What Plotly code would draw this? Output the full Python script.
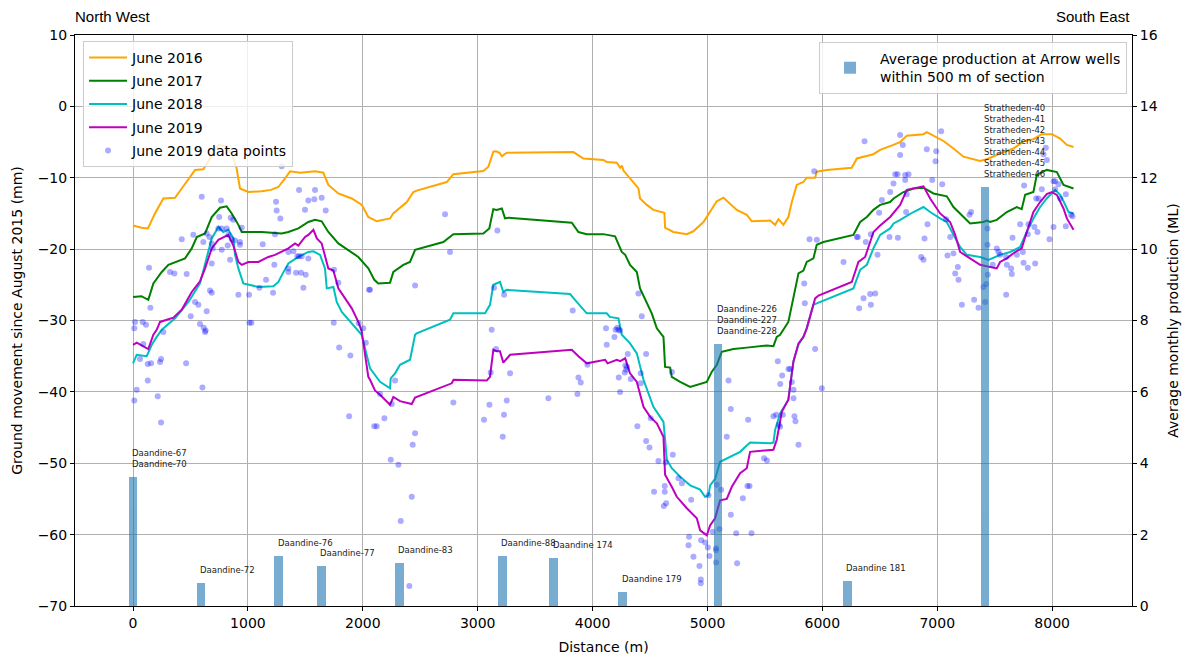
import plotly.graph_objects as go

# ---------------- data ----------------
x_2016 = [0, 75, 130, 191, 264, 366, 424, 511, 540, 612, 656, 700, 750, 800, 860, 902, 931, 1004, 1120, 1200, 1265, 1323, 1367, 1455, 1584, 1657, 1700, 1787, 1904, 1991, 2048, 2121, 2237, 2265, 2383, 2440, 2469, 2731, 2788, 3049, 3093, 3136, 3160, 3190, 3210, 3252, 3514, 3833, 3920, 3978, 4094, 4123, 4211, 4240, 4255, 4269, 4355, 4399, 4413, 4472, 4529, 4602, 4625, 4631, 4703, 4820, 4877, 4965, 5023, 5081, 5139, 5197, 5255, 5342, 5386, 5545, 5589, 5618, 5661, 5704, 5734, 5777, 5835, 5864, 5937, 5951, 6039, 6256, 6300, 6444, 6503, 6618, 6677, 6735, 6880, 6909, 6967, 7054, 7141, 7228, 7373, 7431, 7547, 7663, 7750, 7837, 7910, 7997, 8070, 8128, 8186]
y_2016 = [-16.7, -17.0, -17.1, -15.0, -12.9, -12.8, -11.5, -9.6, -8.9, -8.8, -7.7, -6.2, -5.4, -5.6, -6.6, -8.7, -11.5, -12.0, -11.9, -11.7, -11.3, -10.1, -9.1, -9.3, -9.1, -9.3, -11.0, -12.2, -12.9, -13.8, -15.5, -16.1, -15.7, -15.0, -13.4, -12.0, -11.8, -10.6, -9.5, -9.05, -8.45, -6.35, -6.3, -6.5, -7.0, -6.5, -6.45, -6.4, -7.3, -7.4, -7.5, -7.8, -7.9, -8.6, -8.3, -9.0, -10.6, -11.5, -12.9, -13.8, -14.5, -14.8, -14.9, -17.0, -17.6, -17.9, -17.5, -16.2, -14.8, -13.3, -12.8, -13.6, -14.5, -15.2, -16.1, -16.0, -16.6, -15.8, -16.6, -15.5, -13.4, -11.0, -10.6, -10.0, -10.0, -9.15, -8.9, -8.6, -7.3, -6.7, -6.1, -5.4, -5.0, -4.1, -3.9, -3.6, -4.1, -4.85, -5.9, -7.05, -7.65, -7.4, -6.6, -5.9, -4.9, -4.6, -3.9, -3.9, -4.5, -5.4, -5.7]

x_2017 = [0, 73, 133, 177, 250, 308, 453, 511, 555, 627, 685, 757, 815, 859, 917, 946, 1120, 1294, 1352, 1439, 1526, 1584, 1642, 1700, 1787, 1961, 2048, 2100, 2135, 2190, 2237, 2266, 2353, 2411, 2455, 2701, 2788, 3049, 3101, 3136, 3165, 3210, 3238, 3267, 3819, 3877, 3949, 4094, 4196, 4254, 4284, 4326, 4385, 4413, 4472, 4515, 4559, 4617, 4631, 4675, 4689, 4762, 4849, 4965, 4994, 5037, 5081, 5124, 5226, 5342, 5516, 5574, 5603, 5632, 5704, 5792, 5835, 5864, 5922, 5951, 6009, 6270, 6329, 6387, 6444, 6503, 6590, 6620, 6706, 6793, 6880, 6967, 7083, 7141, 7257, 7286, 7402, 7431, 7460, 7518, 7605, 7692, 7735, 7765, 7837, 7866, 7953, 8041, 8099, 8186]
y_2017 = [-26.7, -26.6, -27.1, -24.8, -23.2, -22.2, -21.3, -19.9, -18.3, -17.8, -15.5, -14.2, -14.0, -15.0, -16.6, -17.6, -17.6, -17.8, -17.6, -17.1, -16.2, -15.9, -16.1, -17.6, -19.2, -21.1, -22.7, -24.3, -24.8, -24.7, -24.7, -23.2, -22.2, -21.8, -20.1, -19.0, -17.9, -17.8, -17.1, -14.4, -14.5, -14.3, -15.7, -15.6, -16.3, -17.6, -17.9, -17.9, -18.2, -20.4, -20.8, -22.2, -23.2, -25.5, -27.4, -29.0, -31.1, -32.3, -36.5, -36.6, -37.9, -38.6, -39.3, -38.8, -38.6, -37.2, -36.2, -34.4, -34.0, -33.8, -33.5, -33.6, -32.3, -32.0, -30.2, -23.4, -23.0, -21.8, -21.3, -19.4, -19.0, -18.0, -16.2, -15.5, -14.5, -13.8, -13.4, -12.9, -12.0, -11.5, -11.4, -12.2, -12.6, -14.1, -15.9, -16.4, -16.2, -16.0, -16.2, -15.9, -14.8, -14.1, -14.4, -12.4, -12.0, -9.6, -8.9, -9.2, -11.0, -11.5]

x_2018 = [0, 32, 119, 163, 206, 250, 366, 482, 583, 627, 685, 743, 786, 830, 873, 888, 917, 960, 1091, 1221, 1265, 1300, 1352, 1439, 1526, 1570, 1628, 1671, 1686, 1744, 1773, 1817, 1874, 1961, 1990, 2063, 2150, 2237, 2243, 2281, 2324, 2411, 2455, 2469, 2759, 2788, 3064, 3107, 3136, 3194, 3223, 3252, 3804, 3862, 3949, 4123, 4150, 4225, 4254, 4326, 4385, 4443, 4529, 4588, 4617, 4631, 4646, 4689, 4762, 4849, 4936, 4979, 5009, 5023, 5066, 5110, 5197, 5284, 5342, 5371, 5545, 5574, 5589, 5632, 5704, 5734, 5748, 5792, 5835, 5864, 5922, 5951, 6270, 6329, 6387, 6444, 6503, 6590, 6620, 6677, 6793, 6880, 6938, 7025, 7083, 7141, 7199, 7257, 7373, 7446, 7547, 7634, 7721, 7779, 7837, 7895, 7953, 8026, 8070, 8099, 8142, 8186]
y_2018 = [-36.0, -34.8, -35.0, -33.4, -32.3, -31.3, -29.7, -27.4, -24.8, -22.2, -18.5, -16.9, -17.6, -17.3, -18.5, -20.8, -22.7, -24.8, -25.3, -25.2, -24.6, -23.5, -22.0, -21.1, -20.4, -20.3, -20.8, -22.7, -25.5, -25.3, -27.4, -28.8, -29.9, -31.6, -32.0, -36.7, -38.6, -39.5, -38.1, -37.4, -36.2, -35.5, -32.0, -31.8, -29.9, -29.0, -29.0, -27.8, -25.0, -24.6, -26.0, -25.7, -26.3, -27.4, -29.0, -29.0, -29.5, -29.7, -32.0, -33.2, -34.6, -38.3, -42.1, -43.5, -44.2, -46.7, -49.5, -50.7, -51.9, -53.1, -53.7, -54.7, -54.5, -53.1, -52.2, -49.8, -49.1, -48.4, -47.5, -47.1, -47.2, -47.1, -45.3, -43.0, -41.1, -37.4, -35.7, -33.4, -32.3, -31.1, -27.8, -27.6, -25.5, -22.9, -22.2, -19.9, -18.0, -17.1, -16.4, -15.9, -14.8, -14.1, -14.8, -15.7, -16.2, -18.0, -19.7, -20.8, -21.1, -21.5, -20.8, -20.4, -19.7, -17.6, -15.7, -14.1, -12.9, -11.7, -12.4, -13.3, -14.8, -15.0]

x_2019 = [0, 32, 133, 177, 206, 235, 351, 424, 511, 583, 627, 685, 743, 830, 873, 917, 946, 1004, 1091, 1178, 1236, 1294, 1352, 1410, 1439, 1497, 1526, 1570, 1600, 1642, 1700, 1744, 1787, 1904, 1961, 1990, 2048, 2063, 2106, 2150, 2237, 2266, 2324, 2426, 2455, 2774, 2790, 3079, 3107, 3136, 3165, 3194, 3223, 3282, 3819, 3877, 3949, 4109, 4130, 4211, 4240, 4284, 4326, 4385, 4443, 4501, 4559, 4617, 4631, 4689, 4733, 4820, 4907, 4936, 4994, 5023, 5066, 5110, 5168, 5212, 5284, 5342, 5371, 5574, 5603, 5647, 5704, 5734, 5749, 5792, 5835, 5864, 5937, 5966, 6256, 6314, 6372, 6416, 6445, 6503, 6590, 6677, 6735, 6880, 6938, 7025, 7112, 7156, 7199, 7286, 7373, 7431, 7518, 7547, 7605, 7678, 7735, 7779, 7837, 7895, 7953, 7997, 8041, 8099, 8128, 8186]
y_2019 = [-33.4, -33.1, -34.0, -32.0, -31.3, -30.2, -29.6, -28.5, -26.0, -24.5, -22.7, -19.9, -18.7, -18.0, -19.5, -21.8, -22.2, -21.8, -21.8, -21.1, -20.8, -20.4, -19.9, -19.2, -19.5, -18.3, -18.0, -17.3, -18.5, -19.2, -22.7, -23.0, -25.5, -28.3, -30.2, -31.5, -37.9, -38.3, -39.8, -40.4, -41.8, -40.7, -41.3, -41.7, -40.8, -38.8, -38.3, -38.4, -37.9, -34.1, -34.3, -34.3, -35.9, -34.8, -34.1, -35.0, -36.0, -35.5, -36.0, -35.5, -35.7, -35.3, -37.4, -38.6, -42.1, -43.5, -44.4, -46.3, -51.6, -53.3, -54.7, -56.3, -57.7, -59.4, -60.1, -58.7, -57.7, -55.2, -55.0, -53.3, -51.4, -50.7, -48.4, -48.1, -46.7, -42.8, -41.1, -37.4, -35.7, -33.2, -32.3, -31.1, -26.9, -26.5, -24.6, -21.8, -21.1, -19.0, -17.6, -16.7, -15.5, -13.8, -11.7, -11.2, -12.9, -15.0, -16.2, -18.0, -20.4, -21.3, -22.2, -22.4, -22.7, -21.8, -21.3, -20.4, -19.9, -17.6, -14.8, -13.4, -12.3, -12.0, -12.4, -14.3, -15.7, -17.3]

pts_x = [1294, 598, 766, 1245, 1445, 1584, 1578, 1642, 1526, 1250, 1677, 1497, 1282, 750, 850, 772, 873,
         424, 525, 612, 641, 665, 685, 743, 815, 830, 859, 888, 931, 931, 946, 772, 824, 693, 685, 845,
         1129, 1236, 1352, 1396, 1430, 1445, 1468, 1526, 1352, 1352, 1419, 1462, 1230, 1503, 1483, 1158,
         1100, 1219, 1010, 917, 670, 685, 1749, 1787, 1747, 1964, 2004, 2054, 139, 322, 360, 467, 151,
         84, 17, 11, 113, 502, 569, 641, 540, 583, 615, 632, 1013, 1030,
         89, 61, 128, 157, 235, 244, 462, 128, 32, 11, 215, 244, 604, 1794, 1892, 2026, 1881, 2100, 627, 264,
         2281, 2150, 2252, 2188, 2121, 2455, 2434, 2243, 2310, 2426, 2330, 2405, 2788, 3102, 3055, 3253,
         3229, 3218, 3113, 3282, 3160, 3122, 3615, 3877, 3897, 3868, 3955, 4123, 4190, 4225, 4306, 4466,
         4228, 4332, 4239, 4285, 4292, 4280, 4300, 4419, 4419, 4506, 4390, 4466, 4495, 4573, 4637, 4535,
         4628, 4628, 4640, 4620,
         4690, 4698, 4748, 4777, 4858, 4840, 4835, 4878, 4930, 4942, 4942, 4945, 4980, 5003, 5017, 5009,
         5046, 5075, 5075, 5075, 5081, 5119, 5104, 5168, 5183, 5203, 5203, 5250, 5258, 5308, 5348, 5366,
         5383, 5354, 5493, 5517, 5574, 5598, 5622, 5632, 5656, 5612, 5650, 5633, 5705, 5720, 5734, 5749,
         5749, 5757, 5766, 5792, 5937, 5995,
         5929, 6367, 6677, 6700, 6677, 7034, 6909, 6991, 6985, 6634, 6654, 6721, 6750, 6721, 6619, 6590,
         6518, 6494, 6735, 6729, 6956, 7043, 6915, 6889, 6860, 6880, 5888, 5952, 6300, 6309, 6422, 6378,
         6657, 6584, 6480, 6184, 5842, 5847, 6358, 6416, 6460, 6320, 6422, 7089, 7141, 7113, 7179, 7156,
         7185, 7077,
         7214, 7321, 7359, 7417, 7402, 7426, 7440, 7437, 7437, 7295, 7280, 7518, 7533, 7547, 7483, 7600,
         7606, 7643, 7649, 7600, 7693, 7655, 7722, 7794, 7788, 7745, 7751, 7788, 7852, 7872, 7846, 7861,
         7881, 7756, 7925, 7945, 7954, 7910, 7977, 8012, 8026, 8012, 8026, 8055, 8119, 8070, 8165, 8177, 8119,
         2716, 2759, 3171, 2455, 3142, 3230, 2063, 3827, 4117, 4200, 4215, 4240, 4399, 4428]
pts_y = [-8.4, -12.65, -13.2, -13.35, -11.7, -11.7, -13.0, -12.8, -13.2, -14.6, -14.6, -14.5, -15.7, -15.5, -15.6, -17.1, -15.9,
         -18.6, -18.0, -19.0, -17.8, -18.3, -19.2, -17.1, -17.1, -18.0, -18.6, -18.8, -19.0, -19.4, -17.0, -20.1, -19.5, -19.9, -22.0, -21.5,
         -19.3, -17.9, -20.4, -20.3, -21.0, -21.0, -21.0, -21.3, -22.7, -23.2, -23.3, -23.3, -22.2, -23.6, -25.4, -24.3,
         -25.4, -26.1, -26.4, -26.4, -25.8, -26.1, -22.9, -24.7, -30.3, -30.4, -31.1, -25.7, -22.6, -23.2, -23.4, -23.5, -28.2,
         -30.2, -30.2, -31.1, -30.6, -29.4, -27.8, -28.7, -27.4, -30.5, -31.0, -31.4, -30.3, -30.3,
         -33.3, -35.4, -36.1, -36.0, -35.8, -35.4, -36.0, -38.4, -39.7, -41.2, -40.6, -44.3, -39.4, -33.8, -34.9, -33.1, -43.4, -44.8, -31.6, -31.6,
         -38.4, -40.3, -41.7, -43.7, -44.8, -45.8, -47.4, -49.5, -50.2, -54.7, -58.1, -67.2, -41.5, -41.8, -43.9, -41.2,
         -43.2, -46.3, -37.3, -37.4, -34.0, -31.3, -40.9, -38.0, -38.7, -40.3, -36.2, -33.4, -32.3, -31.3, -34.7, -34.7,
         -38.0, -38.2, -40.0, -36.3, -36.9, -37.3, -36.5, -37.4, -38.8, -43.7, -44.8, -46.9, -47.8, -49.7, -49.9, -54.0,
         -53.2, -54.0, -55.6, -56.0,
         -37.2, -48.8, -52.1, -52.8, -55.1, -60.3, -61.5, -63.1, -64.4, -66.3, -66.8, -60.8, -61.1, -61.8, -63.0, -54.5,
         -59.6, -61.9, -62.2, -63.9, -53.0, -53.7, -59.2, -46.3, -38.4, -42.4, -57.2, -59.8, -64.0, -54.9, -53.2, -53.2,
         -59.8, -43.9, -49.3, -49.6, -43.4, -43.2, -44.6, -44.9, -43.2, -35.7, -37.7, -38.9, -36.8, -36.8, -38.6, -39.7,
         -40.9, -43.4, -44.1, -47.4, -34.0, -39.5,
         -9.1, -4.9, -4.0, -5.4, -6.8, -3.5, -6.0, -6.3, -7.7, -9.5, -9.5, -9.6, -9.5, -10.3, -10.8, -12.0,
         -13.1, -14.9, -12.3, -14.8, -10.3, -10.9, -16.5, -18.5, -21.1, -21.5, -18.6, -18.7, -18.3, -18.3, -17.9, -19.0,
         -18.4, -18.3, -20.8, -21.8, -24.8, -27.6, -26.9, -26.3, -26.2, -28.3, -27.8, -20.9, -20.6, -18.3, -22.5, -23.4,
         -24.3, -15.8,
         -27.8, -27.1, -28.2, -27.4, -25.3, -24.9, -23.6, -19.4, -17.1, -14.8, -15.2, -19.9, -20.4, -20.8, -22.2, -21.1,
         -22.2, -22.7, -23.5, -26.4, -20.8, -18.4, -16.5, -16.5, -17.9, -20.4, -21.9, -22.6, -22.0, -17.6, -16.9, -12.9,
         -12.9, -11.1, -6.7, -5.8, -7.5, -11.6, -18.6, -16.9, -11.6, -10.5, -10.5, -10.9, -12.3, -12.9, -15.2, -15.4, -16.8,
         -15.1, -20.4, -17.4, -25.1, -25.4, -26.4, -25.7, -28.6, -31.1, -31.3, -31.0, -31.4, -26.2, -29.4]

well_x = [0, 590, 1268, 1640, 2318, 3215, 3662, 4263, 5092, 6218, 7417]
well_prod = [3.61, 0.64, 1.40, 1.13, 1.20, 1.40, 1.34, 0.39, 7.33, 0.70, 11.75]
well_names = ["Daandine-67<br>Daandine-70", "Daandine-72", "Daandine-76", "Daandine-77", "Daandine-83",
              "Daandine-88", "Daandine 174", "Daandine 179",
              "Daandine-226<br>Daandine-227<br>Daandine-228", "Daandine 181",
              "Stratheden-40<br>Stratheden-41<br>Stratheden-42<br>Stratheden-43<br>Stratheden-44<br>Stratheden-45<br>Stratheden-46"]

x_ticks = [0, 1000, 2000, 3000, 4000, 5000, 6000, 7000, 8000]
y_ticks = [10, 0, -10, -20, -30, -40, -50, -60, -70]
y2_ticks = [0, 2, 4, 6, 8, 10, 12, 14, 16]

# ---------------- figure ----------------
FONT = "DejaVu Sans"
fig = go.Figure()

series = [("June 2016", x_2016, y_2016, "#FFA500"),
          ("June 2017", x_2017, y_2017, "#008000"),
          ("June 2018", x_2018, y_2018, "#00BFBF"),
          ("June 2019", x_2019, y_2019, "#BF00BF")]
for name, xs, ys, col in series:
    fig.add_trace(go.Scatter(x=xs, y=ys, mode="lines", name=name,
                             line=dict(color=col, width=2),
                             legendgroup=name, legend="legend"))

fig.add_trace(go.Scatter(x=pts_x, y=pts_y, mode="markers", name="June 2019 data points",
                         marker=dict(color="blue", size=6, opacity=0.33, line=dict(width=0)),
                         legendgroup="pts", legend="legend"))

fig.add_trace(go.Bar(x=well_x, y=well_prod, width=75, yaxis="y2",
                     name="Average production at Arrow wells<br>within 500 m of section",
                     marker=dict(color="#1f77b4", line=dict(width=0)), opacity=0.6,
                     legend="legend2"))

for xv, pv, nm in zip(well_x, well_prod, well_names):
    fig.add_annotation(x=xv, y=pv, xref="x", yref="y2", text=nm, showarrow=False,
                       xanchor="left", yanchor="bottom", yshift=6, xshift=-3,
                       align="left", font=dict(family=FONT, size=8.5, color="#222222"))

fig.add_annotation(x=0, y=1, xref="paper", yref="paper", text="North West", showarrow=False,
                   xanchor="left", yanchor="bottom", yshift=8, xshift=-2,
                   font=dict(family="Liberation Sans", size=15, color="black"))
fig.add_annotation(x=1, y=1, xref="paper", yref="paper", text="South East", showarrow=False,
                   xanchor="right", yanchor="bottom", yshift=8, xshift=0,
                   font=dict(family="Liberation Sans", size=15, color="black"))

axis_common = dict(showline=True, linecolor="black", linewidth=1, ticks="outside",
                   ticklen=4, tickcolor="black", tickfont=dict(family=FONT, size=14, color="black"),
                   zeroline=False)

fig.update_layout(
    width=1190, height=657,
    margin=dict(l=75, r=58, t=35, b=51, autoexpand=False),
    plot_bgcolor="white", paper_bgcolor="white",
    font=dict(family=FONT, size=14, color="black"),
    bargap=0,
    xaxis=dict(range=[-505, 8695], tickmode="array", tickvals=x_ticks, mirror=True,
               showgrid=True, gridcolor="#b0b0b0", gridwidth=1,
               title=dict(text="Distance (m)", font=dict(family=FONT, size=14), standoff=12),
               **axis_common),
    yaxis=dict(range=[-70, 10], tickmode="array", tickvals=y_ticks, mirror=True,
               showgrid=True, gridcolor="#b0b0b0", gridwidth=1,
               title=dict(text="Ground movement since August 2015 (mm)", font=dict(family=FONT, size=14), standoff=11),
               **axis_common),
    yaxis2=dict(range=[0, 16], tickmode="array", tickvals=y2_ticks, overlaying="y", side="right",
                showgrid=False,
                title=dict(text="Average monthly production (ML)", font=dict(family=FONT, size=14), standoff=11),
                **axis_common),
    legend=dict(x=0.0076, y=0.9895, xanchor="left", yanchor="top",
                bgcolor="rgba(255,255,255,0.8)", bordercolor="#cccccc", borderwidth=1,
                font=dict(family=FONT, size=14), tracegroupgap=2, itemwidth=38),
    legend2=dict(x=0.9953, y=0.9877, xanchor="right", yanchor="top",
                 bgcolor="rgba(255,255,255,0.8)", bordercolor="#cccccc", borderwidth=1,
                 font=dict(family=FONT, size=14), itemwidth=50),
)

fig.write_html("out.html")
